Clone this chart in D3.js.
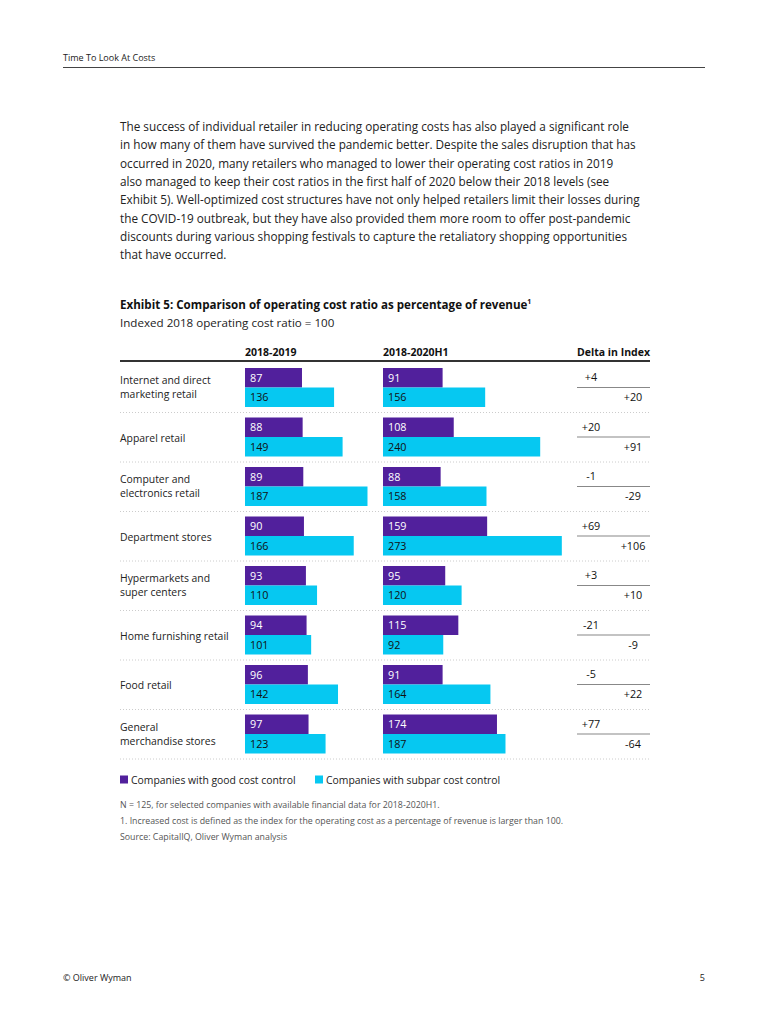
<!DOCTYPE html>
<html>
<head>
<meta charset="utf-8">
<script src="https://cdn.jsdelivr.net/npm/d3@7"></script>
<style>
  body { margin: 0; background: #fff; }
  svg { display: block; font-family: "Open Sans", "Noto Sans", sans-serif; }
</style>
</head>
<body>
<svg id="page" width="770" height="1024"></svg>
<script>
// chart data
const categories = [
    ['Internet and direct', 'marketing retail'],
    ['Apparel retail'],
    ['Computer and', 'electronics retail'],
    ['Department stores'],
    ['Hypermarkets and', 'super centers'],
    ['Home furnishing retail'],
    ['Food retail'],
    ['General', 'merchandise stores']
];
const columns = ['2018-2019', '2018-2020H1'];
const good2019 = [87, 88, 89, 90, 93, 94, 96, 97];
const subpar2019 = [136, 149, 187, 166, 110, 101, 142, 123];
const good2020 = [91, 108, 88, 159, 95, 115, 91, 174];
const subpar2020 = [156, 240, 158, 273, 120, 92, 164, 187];
const deltaGood = ['+4', '+20', '-1', '+69', '+3', '-21', '-5', '+77'];
const deltaSubpar = ['+20', '+91', '-29', '+106', '+10', '-9', '+22', '-64'];
const legendLabels = ['Companies with good cost control', 'Companies with subpar cost control'];

const paragraph = [
    'The success of individual retailer in reducing operating costs has also played a significant role',
    'in how many of them have survived the pandemic better. Despite the sales disruption that has',
    'occurred in 2020, many retailers who managed to lower their operating cost ratios in 2019',
    'also managed to keep their cost ratios in the first half of 2020 below their 2018 levels (see',
    'Exhibit 5). Well-optimized cost structures have not only helped retailers limit their losses during',
    'the COVID-19 outbreak, but they have also provided them more room to offer post-pandemic',
    'discounts during various shopping festivals to capture the retaliatory shopping opportunities',
    'that have occurred.'
];
const notes = [
    'N = 125, for selected companies with available financial data for 2018-2020H1.',
    '1. Increased cost is defined as the index for the operating cost as a percentage of revenue is larger than 100.',
    'Source: CapitalIQ, Oliver Wyman analysis'
];

const PURPLE = '#51209c';
const CYAN = '#06c8f1';

const svg = d3.select('#page');

// page header
svg.append('text')
    .attr('x', 63).attr('y', 61)
    .attr('font-size', 9).attr('fill', '#222')
    .text('Time To Look At Costs');
svg.append('line')
    .attr('x1', 63).attr('x2', 705)
    .attr('y1', 67.5).attr('y2', 67.5)
    .attr('stroke', '#444').attr('stroke-width', 1);

// body text
svg.append('g')
    .selectAll('text')
    .data(paragraph)
    .join('text')
    .attr('x', 120)
    .attr('y', (d, i) => 131 + i * 18.3)
    .attr('font-size', 11.75)
    .attr('fill', '#222')
    .text(d => d);

// exhibit title
const title = svg.append('text')
    .attr('x', 120).attr('y', 309)
    .attr('font-size', 11.6).attr('font-weight', 'bold').attr('fill', '#111')
    .text('Exhibit 5: Comparison of operating cost ratio as percentage of revenue');
title.append('tspan')
    .attr('font-size', 7).attr('dy', -5)
    .text('1');
svg.append('text')
    .attr('x', 120).attr('y', 327)
    .attr('font-size', 11.6).attr('fill', '#222')
    .text('Indexed 2018 operating cost ratio = 100');

// scales
const y = d3.scaleBand()
    .domain(d3.range(categories.length))
    .range([363.5, 759.5]);
const x = d3.scaleLinear()
    .domain([0, 100])
    .range([0, 65.5]);
const colX = [245, 383];
const barH = 19.5;
const barTop = i => y(i) + 4.5;

// column headers
const chart = svg.append('g');
chart.selectAll('.colhead')
    .data(columns)
    .join('text')
    .attr('class', 'colhead')
    .attr('x', (d, i) => colX[i])
    .attr('y', 356)
    .attr('font-size', 10.5).attr('font-weight', 'bold').attr('fill', '#111')
    .text(d => d);
chart.append('text')
    .attr('x', 650).attr('y', 356)
    .attr('text-anchor', 'end')
    .attr('font-size', 10.5).attr('font-weight', 'bold').attr('fill', '#111')
    .text('Delta in Index');
chart.append('line')
    .attr('x1', 120).attr('x2', 650)
    .attr('y1', 361).attr('y2', 361)
    .attr('stroke', '#333').attr('stroke-width', 2);

// dotted separators under each row
chart.selectAll('.sep')
    .data(d3.range(categories.length))
    .join('line')
    .attr('class', 'sep')
    .attr('x1', 120).attr('x2', 650)
    .attr('y1', i => y(i) + y.bandwidth() - 0.5)
    .attr('y2', i => y(i) + y.bandwidth() - 0.5)
    .attr('stroke', '#ccc').attr('stroke-width', 1)
    .attr('stroke-dasharray', '1,2');

// category labels
chart.selectAll('.cat')
    .data(categories)
    .join('text')
    .attr('class', 'cat')
    .attr('font-size', 10.4).attr('fill', '#222')
    .each(function (lines, i) {
        const t = d3.select(this);
        lines.forEach((line, k) => {
            const cy = lines.length === 1 ? barTop(i) + 20 : barTop(i) + 12 + k * 14;
            t.append('tspan')
                .attr('x', 120)
                .attr('y', cy + 4)
                .text(line);
        });
    });

// bars
const series = [
    { col: 0, values: good2019, color: PURPLE, text: '#fff', row: 0 },
    { col: 0, values: subpar2019, color: CYAN, text: '#111', row: 1 },
    { col: 1, values: good2020, color: PURPLE, text: '#fff', row: 0 },
    { col: 1, values: subpar2020, color: CYAN, text: '#111', row: 1 }
];
series.forEach(s => {
    const g = chart.append('g');
    g.selectAll('rect')
        .data(s.values)
        .join('rect')
        .attr('x', colX[s.col])
        .attr('y', (d, i) => barTop(i) + s.row * barH)
        .attr('width', d => x(d))
        .attr('height', barH)
        .attr('fill', s.color);
    g.selectAll('text')
        .data(s.values)
        .join('text')
        .attr('x', colX[s.col] + 5)
        .attr('y', (d, i) => barTop(i) + s.row * barH + barH / 2 + 4)
        .attr('font-size', 10.8)
        .attr('fill', s.text)
        .text(d => d);
});

// delta column
chart.selectAll('.dline')
    .data(deltaGood)
    .join('line')
    .attr('class', 'dline')
    .attr('x1', 577).attr('x2', 650)
    .attr('y1', (d, i) => barTop(i) + barH)
    .attr('y2', (d, i) => barTop(i) + barH)
    .attr('stroke', '#888').attr('stroke-width', 1.2);
chart.selectAll('.dgood')
    .data(deltaGood)
    .join('text')
    .attr('class', 'dgood')
    .attr('x', 591)
    .attr('y', (d, i) => barTop(i) + 13)
    .attr('text-anchor', 'middle')
    .attr('font-size', 10.8).attr('fill', '#111')
    .text(d => d);
chart.selectAll('.dsub')
    .data(deltaSubpar)
    .join('text')
    .attr('class', 'dsub')
    .attr('x', 633)
    .attr('y', (d, i) => barTop(i) + 33)
    .attr('text-anchor', 'middle')
    .attr('font-size', 10.8).attr('fill', '#111')
    .text(d => d);

// legend
const legendX = [120, 315];
const legend = svg.append('g')
    .selectAll('g')
    .data(legendLabels)
    .join('g')
    .attr('transform', (d, i) => `translate(${legendX[i]},780)`);
legend.append('rect')
    .attr('x', 0).attr('y', -4.5)
    .attr('width', 8).attr('height', 8)
    .attr('fill', (d, i) => i === 0 ? PURPLE : CYAN);
legend.append('text')
    .attr('x', 11).attr('y', 4)
    .attr('font-size', 10.4).attr('fill', '#222')
    .text(d => d);

// notes
svg.append('g')
    .selectAll('text')
    .data(notes)
    .join('text')
    .attr('x', 120)
    .attr('y', (d, i) => 808 + i * 16)
    .attr('font-size', 8.8)
    .attr('fill', '#555')
    .text(d => d);

// page footer
svg.append('text')
    .attr('x', 63).attr('y', 981)
    .attr('font-size', 9).attr('fill', '#222')
    .text('© Oliver Wyman');
svg.append('text')
    .attr('x', 705).attr('y', 981)
    .attr('text-anchor', 'end')
    .attr('font-size', 9).attr('fill', '#222')
    .text('5');
</script>
</body>
</html>
